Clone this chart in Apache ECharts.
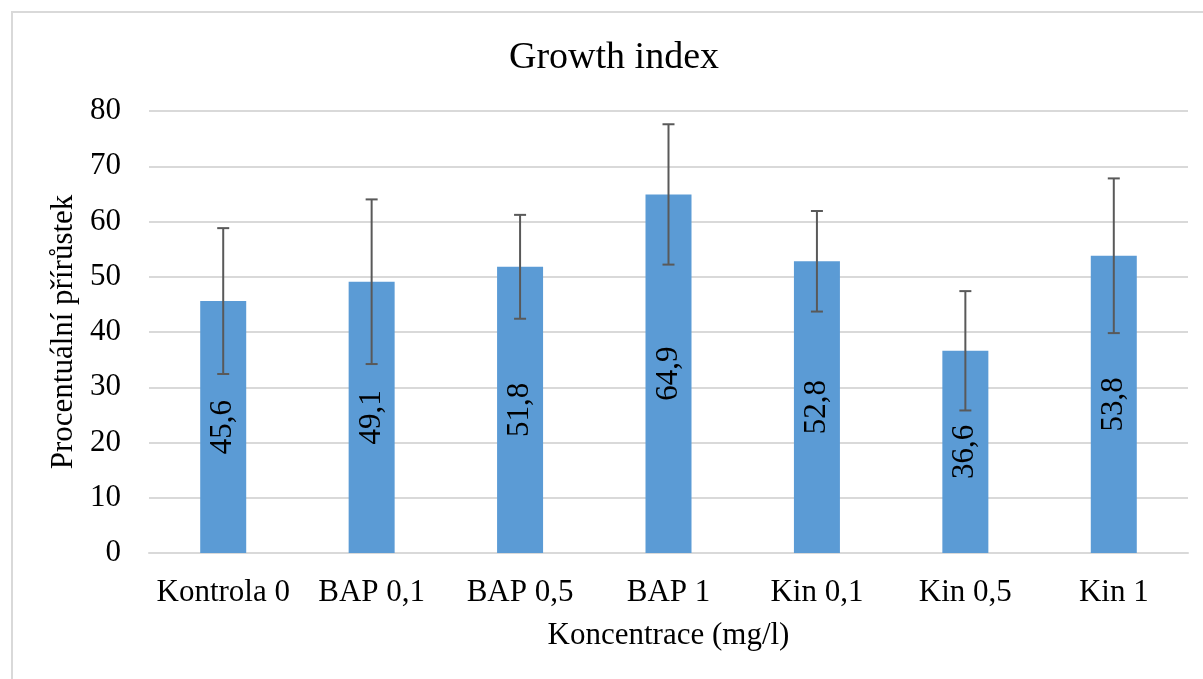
<!DOCTYPE html>
<html>
<head>
<meta charset="utf-8">
<script src="https://cdn.jsdelivr.net/npm/echarts@6/dist/echarts.min.js"></script>
<style>
  html, body { margin: 0; padding: 0; background: #fff; }
  .frame {
    position: absolute;
    left: 11px;
    top: 11px;
    width: 1220px;
    height: 700px;
    border-left: 2px solid #d9d9d9;
    border-top: 2px solid #d9d9d9;
  }
  #chart { position: absolute; left: 0; top: 0; width: 1203px; height: 679px; }
</style>
</head>
<body>
<div class="frame"></div>
<div id="chart"></div>
<script>
const categories = ['Kontrola 0', 'BAP 0,1', 'BAP 0,5', 'BAP 1', 'Kin 0,1', 'Kin 0,5', 'Kin 1'];
const means = [45.6, 49.1, 51.8, 64.9, 52.8, 36.6, 53.8];
const errors = [13.2, 14.9, 9.4, 12.7, 9.1, 10.8, 14.0];

const font = "'Liberation Serif', 'Times New Roman', serif";

// chyba: [index, dolni, horni]
const errData = means.map((m, i) => [i, m - errors[i], m + errors[i]]);

const myChart = echarts.init(document.getElementById('chart'));

const option = {
  animation: false,
  title: {
    text: 'Growth index',
    left: 504,
    top: 34,
    textStyle: { fontFamily: font, fontSize: 38, fontWeight: 'normal', color: '#000' }
  },
  grid: { left: 149, right: 15, top: 111, bottom: 126 },
  xAxis: {
    type: 'category',
    data: categories,
    name: 'Koncentrace (mg/l)',
    nameLocation: 'middle',
    nameGap: 67,
    nameTextStyle: { fontFamily: font, fontSize: 31, color: '#000' },
    axisLine: { lineStyle: { color: '#d9d9d9', width: 2 } },
    axisTick: { show: false },
    axisLabel: { fontFamily: font, fontSize: 31, color: '#000', margin: 24, interval: 0 }
  },
  yAxis: {
    type: 'value',
    min: 0,
    max: 80,
    interval: 10,
    name: 'Procentuální přírůstek',
    nameLocation: 'middle',
    nameGap: 62,
    nameTextStyle: { fontFamily: font, fontSize: 31, color: '#000' },
    axisLine: { show: false },
    axisTick: { show: false },
    axisLabel: { fontFamily: font, fontSize: 31, color: '#000', margin: 28 },
    splitLine: { lineStyle: { color: '#d9d9d9', width: 2 } }
  },
  series: [
    {
      type: 'bar',
      data: means,
      barWidth: 46,
      itemStyle: { color: '#5b9bd5' },
      label: {
        show: true,
        position: 'inside',
        rotate: 90,
        fontFamily: font,
        fontSize: 31,
        color: '#000',
        formatter: p => String(p.value).replace('.', ',')
      },
      z: 2
    },
    {
      type: 'custom',
      data: errData,
      z: 3,
      renderItem: function (params, api) {
        const x = api.value(0);
        const lo = api.coord([x, api.value(1)]);
        const hi = api.coord([x, api.value(2)]);
        const half = 6;
        const style = { stroke: '#595959', lineWidth: 2 };
        return {
          type: 'group',
          children: [
            { type: 'line', shape: { x1: hi[0], y1: hi[1], x2: lo[0], y2: lo[1] }, style },
            { type: 'line', shape: { x1: hi[0] - half, y1: hi[1], x2: hi[0] + half, y2: hi[1] }, style },
            { type: 'line', shape: { x1: lo[0] - half, y1: lo[1], x2: lo[0] + half, y2: lo[1] }, style }
          ]
        };
      }
    }
  ]
};

myChart.setOption(option);
</script>
</body>
</html>
